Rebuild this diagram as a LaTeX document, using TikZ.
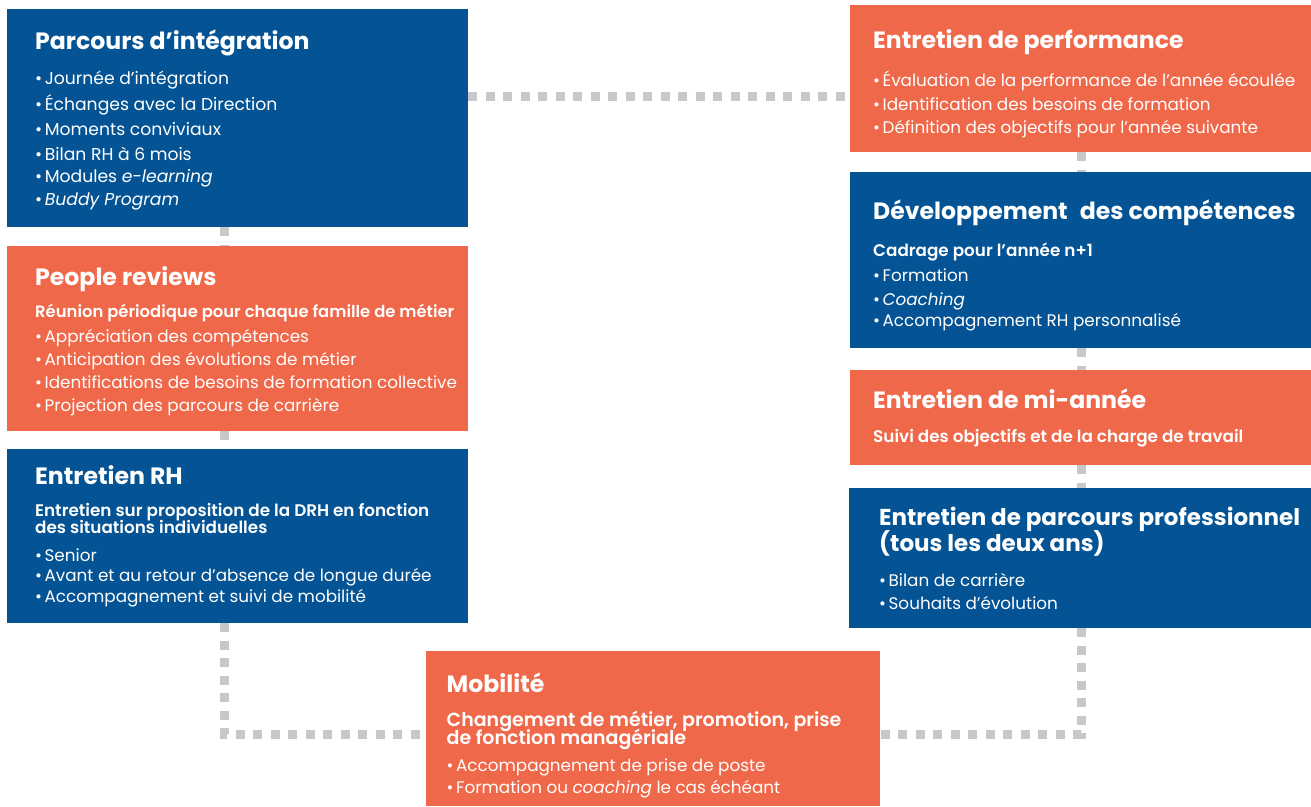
\documentclass[tikz,border=0pt]{standalone}
\usepackage{fontspec}
\setmainfont{Poppins}[BoldFont={Poppins SemiBold}]
\newfontfamily\ttlfont{Poppins Bold}
\usetikzlibrary{backgrounds}
\definecolor{rhblue}{RGB}{4,83,148}
\definecolor{rhorange}{RGB}{240,104,74}
\definecolor{dotgray}{RGB}{200,200,202}
\tikzset{
  x=1pt, y=1pt,
  box/.style={anchor=north west, inner sep=0, outer sep=0},
  bluebox/.style={box, fill=rhblue},
  orangebox/.style={box, fill=rhorange},
  ttl/.style={anchor=base west, inner sep=0, text=white, font=\fontsize{23.6}{27}\ttlfont},
  ttls/.style={ttl, font=\fontsize{23}{27}\ttlfont},
  sub/.style={anchor=base west, inner sep=0, text=white, font=\fontsize{16.8}{20}\selectfont\bfseries},
  subn/.style={sub, font=\fontsize{16.4}{20}\selectfont\bfseries},
  subm/.style={sub, font=\fontsize{19}{22}\selectfont\bfseries},
  txt/.style={anchor=base west, inner sep=0, text=white, font=\fontsize{16.8}{19}\selectfont},
  txtl/.style={txt, font=\fontsize{17.2}{19}\selectfont},
  conn/.style={draw=dotgray, line width=9pt, dash pattern=on 9pt off 8.5pt}
}
\newcommand{\bu}{•\hspace{0.15em}}
\begin{document}
\begin{tikzpicture}
\useasboundingbox (0,0) rectangle (1311,-806);
% boxes
\node[bluebox, minimum width=461, minimum height=218] (b1) at (7,-9) {};
\node[orangebox, minimum width=461, minimum height=185] (b2) at (7,-246) {};
\node[bluebox, minimum width=461, minimum height=174] (b3) at (7,-449) {};
\node[orangebox, minimum width=461, minimum height=147] (b5) at (850,-5) {};
\node[bluebox, minimum width=461, minimum height=176] (b6) at (850,-172) {};
\node[orangebox, minimum width=461, minimum height=95] (b7) at (850,-370) {};
\node[bluebox, minimum width=462, minimum height=140] (b8) at (849,-488) {};
\node[orangebox, minimum width=454, minimum height=155] (mob) at (426,-651) {};
% connector helper coordinates
\coordinate (ytop) at (0,-96);
\coordinate (xl) at (224,0);
\coordinate (xr) at (1081,0);
\coordinate (ybot) at (0,-734);
\coordinate (cl) at (224,-734);
\coordinate (cr) at (1081,-734);
\begin{scope}[on background layer]
\draw[conn] (b1.east |- ytop) -- (b5.west |- ytop);
\draw[conn] (b1.south -| xl) -- (b2.north -| xl);
\draw[conn] (b2.south -| xl) -- (b3.north -| xl);
\draw[conn] (b3.south -| xl) -- (cl) -- (mob.west |- ybot);
\draw[conn] (b5.south -| xr) -- (b6.north -| xr);
\draw[conn] (b6.south -| xr) -- (b7.north -| xr);
\draw[conn] (b7.south -| xr) -- (b8.north -| xr);
\draw[conn] (b8.south -| xr) -- (cr) -- (mob.east |- ybot);
\end{scope}
% box 1
\node[ttl] (t1) at (35,-49) {Parcours d’intégration};
\node[txtl] (t1a) at (35,-84) {\bu Journée d’intégration};
\node[txtl] (t1b) at (35,-110) {\bu Échanges avec la Direction};
\node[txtl] (t1c) at (35,-135) {\bu Moments conviviaux};
\node[txtl] (t1d) at (35,-160) {\bu Bilan RH à 6 mois};
\node[txtl] (t1e) at (35,-182) {\bu Modules \textit{e-learning}};
\node[txtl] (t1f) at (35,-205) {\bu \textit{Buddy Program}};
% box 2
\node[ttl] (t2) at (35,-285.7) {People reviews};
\node[subn] (t2s) at (35,-317.3) {Réunion périodique pour chaque famille de métier};
\node[txt] (t2a) at (35,-342.7) {\bu Appréciation des compétences};
\node[txt] (t2b) at (35,-365.5) {\bu Anticipation des évolutions de métier};
\node[txt] (t2c) at (35,-388.5) {\bu Identifications de besoins de formation collective};
\node[txt] (t2d) at (35,-411.3) {\bu Projection des parcours de carrière};
% box 3
\node[ttl] (t3) at (35,-484.3) {Entretien RH};
\node[sub] (t3s) at (35,-516) {Entretien sur proposition de la DRH en fonction};
\node[sub] (t3t) at (35,-533.5) {des situations individuelles};
\node[txt] (t3a) at (35,-561) {\bu Senior};
\node[txt] (t3b) at (35,-581.7) {\bu Avant et au retour d’absence de longue durée};
\node[txt] (t3c) at (35,-602.7) {\bu Accompagnement et suivi de mobilité};
% box 5
\node[ttl] (t5) at (873,-48.3) {Entretien de performance};
\node[txt] (t5a) at (873,-86) {\bu Évaluation de la performance de l’année écoulée};
\node[txt] (t5b) at (873,-110) {\bu Identification des besoins de formation};
\node[txt] (t5c) at (873,-133.3) {\bu Définition des objectifs pour l’année suivante};
% box 6
\node[ttl] (t6) at (873,-219.3) {Développement\hspace{0.3em} des compétences};
\node[sub] (t6s) at (873,-256.7) {Cadrage pour l’année n+1};
\node[txt] (t6a) at (873,-281.7) {\bu Formation};
\node[txt] (t6b) at (873,-305) {\bu \textit{Coaching}};
\node[txt] (t6c) at (873,-326) {\bu Accompagnement RH personnalisé};
% box 7
\node[ttl] (t7) at (873,-408.3) {Entretien de mi-année};
\node[sub] (t7s) at (873,-442.7) {Suivi des objectifs et de la charge de travail};
% box 8
\node[ttls] (t8) at (879,-525) {Entretien de parcours professionnel};
\node[ttls] (t8b) at (879,-551) {(tous les deux ans)};
\node[txt] (t8c) at (879,-586) {\bu Bilan de carrière};
\node[txt] (t8d) at (879,-609) {\bu Souhaits d’évolution};
% mobilite
\node[ttl] (tm) at (446.5,-692.7) {Mobilité};
\node[subm] (tms) at (446.5,-726) {Changement de métier, promotion, prise};
\node[subm] (tmt) at (446.5,-744.3) {de fonction managériale};
\node[txt] (tma) at (446.5,-771.7) {\bu Accompagnement de prise de poste};
\node[txt] (tmb) at (446.5,-793.3) {\bu Formation ou \textit{coaching} le cas échéant};
\end{tikzpicture}
\end{document}
